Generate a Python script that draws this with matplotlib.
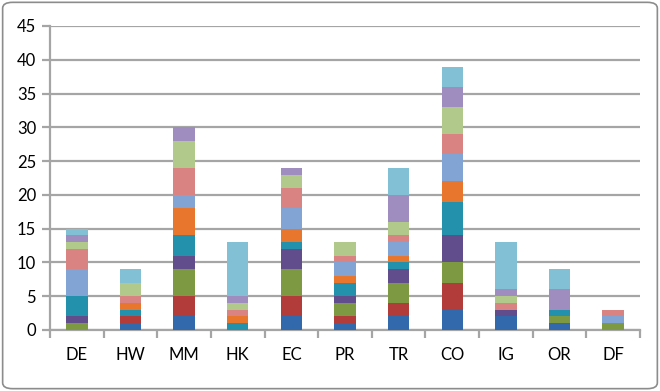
import numpy as np
import matplotlib
matplotlib.use("Agg")
import matplotlib.pyplot as plt
from matplotlib.patches import FancyBboxPatch

categories = ["DE", "HW", "MM", "HK", "EC", "PR", "TR", "CO", "IG", "OR", "DF"]

# one list per stacked series, bottom to top
s_blue      = [0, 1, 2, 0, 2, 1, 2, 3, 2, 1, 0]
s_red       = [0, 1, 3, 0, 3, 1, 2, 4, 0, 0, 0]
s_green     = [1, 0, 4, 0, 4, 2, 3, 3, 0, 1, 1]
s_purple    = [1, 0, 2, 0, 3, 1, 2, 4, 1, 0, 0]
s_teal      = [3, 1, 3, 1, 1, 2, 1, 5, 0, 1, 0]
s_orange    = [0, 1, 4, 1, 2, 1, 1, 3, 0, 0, 0]
s_lightblue = [4, 0, 2, 0, 3, 2, 2, 4, 0, 0, 1]
s_pink      = [3, 1, 4, 1, 3, 1, 1, 3, 1, 0, 1]
s_lightgrn  = [1, 2, 4, 1, 2, 2, 2, 4, 1, 0, 0]
s_lavender  = [1, 0, 2, 1, 1, 0, 4, 3, 1, 3, 0]
s_lightaqua = [1, 2, 0, 8, 0, 0, 4, 3, 7, 3, 0]

series = [s_blue, s_red, s_green, s_purple, s_teal, s_orange,
          s_lightblue, s_pink, s_lightgrn, s_lavender, s_lightaqua]
colors = ["#3169AC", "#B23C39", "#7D9A42", "#614C8C", "#2390AC", "#E8772D",
          "#82A4D4", "#D98383", "#B1C98B", "#9F8DC0", "#82C1D5"]

plt.rcParams['font.family'] = ['Lato', 'DejaVu Sans']

fig = plt.figure(figsize=(6.6, 3.91), dpi=100)
ax = fig.add_axes([50/660, 1 - 330/391, 590/660, 304/391])

x = np.arange(len(categories))
bottom = np.zeros(len(categories))
for vals, c in zip(series, colors):
    ax.bar(x, vals, 0.4, bottom=bottom, color=c, zorder=3)
    bottom += np.array(vals)

grid_c = "#A5A5A5"
ax.set_xlim(-0.5, len(categories) - 0.5)
ax.set_ylim(0, 45)
ax.set_yticks(range(0, 46, 5))
ax.yaxis.grid(True, color=grid_c, linewidth=1.6, zorder=0)
ax.set_axisbelow(True)

ax.set_xticks(x)
ax.set_xticklabels(categories)
ax.set_xticks(np.arange(-0.5, len(categories)), minor=True)
ax.tick_params(axis='x', which='major', length=0, pad=12, labelsize=12, colors="#000000")
ax.tick_params(axis='x', which='minor', length=6, width=1.6, color=grid_c)
ax.tick_params(axis='y', length=6, width=1.6, color=grid_c, labelsize=12, pad=4)

for s in ["top", "right"]:
    ax.spines[s].set_visible(False)
for s in ["left", "bottom"]:
    ax.spines[s].set_color(grid_c)
    ax.spines[s].set_linewidth(1.6)

border = FancyBboxPatch((0.004, 0.006), 0.992, 0.988, boxstyle="round,pad=0,rounding_size=0.015",
                        transform=fig.transFigure, fill=False, edgecolor="#8C8C8C", linewidth=1.2)
fig.patches.append(border)

fig.savefig("out.png", dpi=100)
